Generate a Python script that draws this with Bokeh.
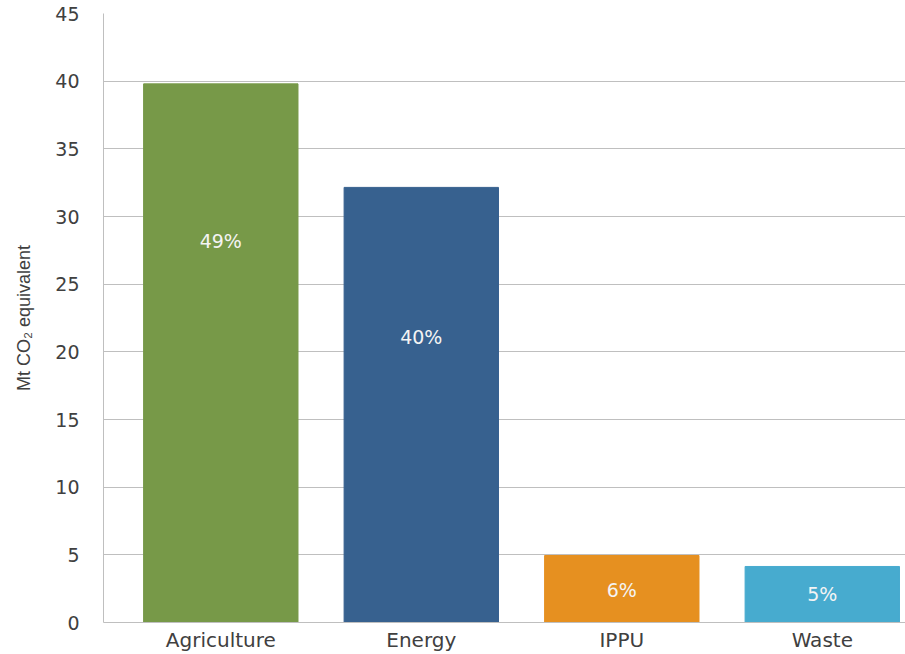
from bokeh.plotting import figure
from bokeh.models import Range1d, FixedTicker, ColumnDataSource
from bokeh.core.properties import value
from bokeh.embed import file_html
from bokeh.resources import INLINE

# Emissions by sector, Mt CO2 equivalent
sectors = ["Agriculture", "Energy", "IPPU", "Waste"]
emissions = [39.8, 32.15, 4.95, 4.14]
bar_colors = ["#779948", "#37618F", "#E69020", "#47ABCF"]
y_ticks = [0, 5, 10, 15, 20, 25, 30, 35, 40, 45]
# where each share label sits inside its bar
label_y = [28.2, 21.1, 2.4, 2.1]

total = sum(emissions)
shares = [f"{round(v / total * 100)}%" for v in emissions]
xs = list(range(len(sectors)))

src = ColumnDataSource(dict(x=xs, top=emissions, color=bar_colors,
                            label=shares, ly=label_y))

p = figure(width=905, height=654, output_backend="svg", toolbar_location=None,
           x_range=Range1d(-0.585, 3.415), y_range=Range1d(0, 45),
           min_border_left=103, min_border_top=13, min_border_bottom=32,
           min_border_right=0)
p.outline_line_color = None
p.background_fill_color = "white"

p.vbar(x="x", top="top", width=0.77, color="color", source=src)
p.text(x="x", y="ly", text="label", source=src, text_align="center",
       text_baseline="middle", text_color="#F4F4F4",
       text_font=value("DejaVu Sans"), text_font_size="19px")

font = "DejaVu Sans"
grey = "#BFBFBF"
text_grey = "#404040"

p.yaxis.ticker = FixedTicker(ticks=y_ticks)
p.yaxis.axis_label = "Mt CO₂ equivalent"
p.yaxis.axis_label_text_font = "Liberation Sans"
p.yaxis.axis_label_text_font_style = "normal"
p.yaxis.axis_label_text_font_size = "18px"
p.yaxis.axis_label_text_color = text_grey
p.yaxis.axis_label_standoff = 18
p.yaxis.major_label_text_font = font
p.yaxis.major_label_text_font_size = "19px"
p.yaxis.major_label_text_color = text_grey
p.yaxis.major_label_standoff = 18
p.yaxis.major_tick_line_color = None
p.yaxis.minor_tick_line_color = None
p.yaxis.axis_line_color = grey

p.xaxis.ticker = FixedTicker(ticks=xs)
p.xaxis.major_label_overrides = {i: s for i, s in enumerate(sectors)}
p.xaxis.major_label_text_font = font
p.xaxis.major_label_text_font_size = "20px"
p.xaxis.major_label_text_color = text_grey
p.xaxis.major_label_standoff = 5
p.xaxis.major_tick_out = 0
p.xaxis.major_tick_line_color = None
p.xaxis.minor_tick_line_color = None
p.xaxis.axis_line_color = grey

p.xgrid.grid_line_color = None
p.ygrid.grid_line_color = grey
p.ygrid.grid_line_width = 1

open("out.html", "w").write(file_html(p, INLINE))
